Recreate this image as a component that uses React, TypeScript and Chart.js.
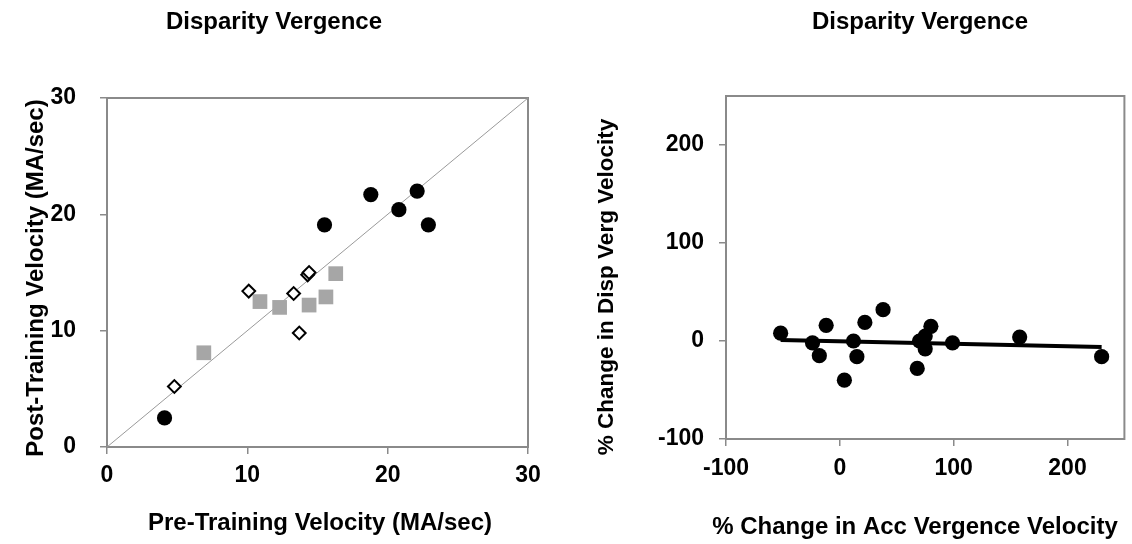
import React, { useEffect, useRef } from "react";
import { Chart, registerables } from "chart.js";

Chart.register(...registerables);

const FONT = "'Liberation Sans', Arial, Helvetica, sans-serif";

// ---------- data: left panel ----------
const leftTicks = [0, 10, 20, 30];
const circlesX = [4.1, 15.5, 18.8, 20.8, 22.1, 22.9];
const circlesY = [2.5, 19.1, 21.7, 20.4, 22.0, 19.1];
const squaresX = [6.9, 10.9, 12.3, 14.4, 15.6, 16.3];
const squaresY = [8.1, 12.5, 12.0, 12.2, 12.9, 14.9];
const diamondsX = [4.8, 10.1, 13.3, 13.7, 14.3, 14.4];
const diamondsY = [5.2, 13.4, 13.2, 9.8, 14.8, 15.0];
const unityX = [0, 30];
const unityY = [0, 30];

// ---------- data: right panel ----------
const rightTicks = [-100, 0, 100, 200];
const accX = [-52, -24, -18, -12, 4, 12, 15, 22, 38, 68, 70, 75, 75, 80, 99, 158, 230];
const dispY = [8, -2, -15, 16, -40, 0, -16, 19, 32, -28, 0, 5, -8, 15, -2, 4, -16];
const trendX = [-52, 230];
const trendY = [1, -6];

// ---------- text ----------
const panelTitle = "Disparity Vergence";
const leftXTitle = "Pre-Training Velocity (MA/sec)";
const leftYTitle = "Post-Training Velocity (MA/sec)";
const rightXTitle = "% Change in Acc Vergence Velocity";
const rightYTitle = "% Change in Disp Verg Velocity";

const pts = (xs: number[], ys: number[]) => xs.map((x, i) => ({ x, y: ys[i] }));

type Label = { text: string; x: number; y: number; size: number; rotate?: boolean };

const textPlugin = (labels: Label[]) => ({
  id: "panelTexts",
  afterDraw(chart: any) {
    const ctx = chart.ctx;
    labels.forEach((l) => {
      ctx.save();
      ctx.font = `bold ${l.size}px ${FONT}`;
      ctx.fillStyle = "#000";
      ctx.textAlign = "center";
      ctx.textBaseline = "middle";
      ctx.translate(l.x, l.y);
      if (l.rotate) ctx.rotate(-Math.PI / 2);
      ctx.fillText(l.text, 0, 0);
      ctx.restore();
    });
  },
});

const framePlugin = {
  id: "frame",
  beforeDatasetsDraw(chart: any) {
    const { ctx, chartArea: a } = chart;
    ctx.save();
    ctx.strokeStyle = "#8a8a8a";
    ctx.lineWidth = 2;
    ctx.strokeRect(a.left, a.top, a.right - a.left, a.bottom - a.top);
    ctx.restore();
  },
};

const tickFont = { family: FONT, size: 23, weight: "bold" as const };

function axis(
  min: number,
  max: number,
  ticks: number[],
  fitSize: number,
  horizontal: boolean,
  padding: number
) {
  return {
    type: "linear" as const,
    min,
    max,
    afterBuildTicks: (s: any) => {
      s.ticks = ticks.map((v) => ({ value: v }));
    },
    afterFit: (s: any) => {
      if (horizontal) s.height = fitSize;
      else s.width = fitSize;
    },
    border: { display: false },
    grid: {
      display: true,
      drawOnChartArea: false,
      drawTicks: true,
      tickLength: 7,
      color: "#8a8a8a",
      lineWidth: 1.5,
    },
    ticks: {
      color: "#000",
      font: tickFont,
      padding,
      maxRotation: 0,
      autoSkip: false,
      callback: (v: any) => String(v),
    },
    title: { display: false },
  };
}

function LeftChart() {
  const ref = useRef<HTMLCanvasElement | null>(null);
  useEffect(() => {
    if (!ref.current) return;
    const chart = new Chart(ref.current, {
      type: "scatter",
      data: {
        datasets: [
          {
            label: "circles",
            data: pts(circlesX, circlesY),
            pointStyle: "circle",
            pointRadius: 7.6,
            backgroundColor: "#000",
            borderColor: "#000",
            borderWidth: 0,
          },
          {
            label: "diamonds",
            data: pts(diamondsX, diamondsY),
            pointStyle: "rectRot",
            pointRadius: 6.4,
            backgroundColor: "#fff",
            borderColor: "#000",
            borderWidth: 2,
          },
          {
            label: "squares",
            data: pts(squaresX, squaresY),
            pointStyle: "rect",
            pointRadius: 10.4,
            backgroundColor: "#a6a6a6",
            borderColor: "#a6a6a6",
            borderWidth: 0,
          },
          {
            label: "unity",
            data: pts(unityX, unityY),
            showLine: true,
            pointRadius: 0,
            borderColor: "#9a9a9a",
            borderWidth: 1,
          },
        ],
      },
      options: {
        responsive: false,
        animation: false,
        devicePixelRatio: 1,
        layout: { padding: { left: 0, top: 98, right: 38, bottom: 0 } },
        plugins: { legend: { display: false }, tooltip: { enabled: false }, title: { display: false } },
        scales: {
          x: axis(0, 30, leftTicks, 97, true, 8),
          y: axis(0, 30, leftTicks, 107, false, 24),
        },
      },
      plugins: [
        framePlugin,
        textPlugin([
          { text: panelTitle, x: 274, y: 22, size: 24 },
          { text: leftXTitle, x: 320, y: 523, size: 24 },
          { text: leftYTitle, x: 36, y: 278, size: 24, rotate: true },
        ]),
      ],
    } as any);
    return () => chart.destroy();
  }, []);
  return <canvas ref={ref} width={566} height={544} style={{ display: "block" }} />;
}

function RightChart() {
  const ref = useRef<HTMLCanvasElement | null>(null);
  useEffect(() => {
    if (!ref.current) return;
    const chart = new Chart(ref.current, {
      type: "scatter",
      data: {
        datasets: [
          {
            label: "subjects",
            data: pts(accX, dispY),
            pointStyle: "circle",
            pointRadius: 7.6,
            backgroundColor: "#000",
            borderColor: "#000",
            borderWidth: 0,
          },
          {
            label: "trend",
            data: pts(trendX, trendY),
            showLine: true,
            pointRadius: 0,
            borderColor: "#000",
            borderWidth: 4,
          },
        ],
      },
      options: {
        responsive: false,
        animation: false,
        devicePixelRatio: 1,
        layout: { padding: { left: 0, top: 96, right: 2, bottom: 0 } },
        plugins: { legend: { display: false }, tooltip: { enabled: false }, title: { display: false } },
        scales: {
          x: axis(-100, 250, rightTicks, 105, true, 9),
          y: axis(-100, 250, rightTicks, 160, false, 15),
        },
      },
      plugins: [
        framePlugin,
        textPlugin([
          { text: panelTitle, x: 354, y: 22, size: 24 },
          { text: rightXTitle, x: 349, y: 527, size: 24 },
          { text: rightYTitle, x: 41, y: 287, size: 22.5, rotate: true },
        ]),
      ],
    } as any);
    return () => chart.destroy();
  }, []);
  return <canvas ref={ref} width={566} height={544} style={{ display: "block" }} />;
}

export default function App() {
  return (
    <div
      style={{
        position: "fixed",
        left: 0,
        top: 0,
        width: 1132,
        height: 544,
        background: "#fff",
        overflow: "hidden",
      }}
    >
      <div style={{ position: "absolute", left: 0, top: 0, width: 566, height: 544 }}>
        <LeftChart />
      </div>
      <div style={{ position: "absolute", left: 566, top: 0, width: 566, height: 544 }}>
        <RightChart />
      </div>
    </div>
  );
}
